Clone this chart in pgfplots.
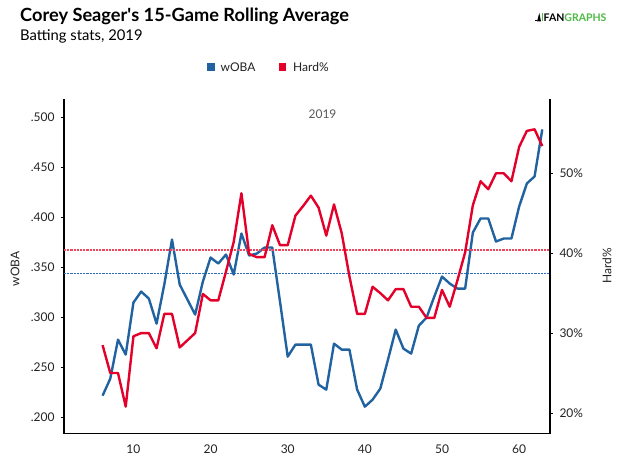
\documentclass[border=0pt]{standalone}
\usepackage{pgfplots}
\pgfplotsset{compat=1.18}
\usepackage{pgfplotstable}
\usepackage{fontspec}
\setmainfont{Lato}
\definecolor{fgblue}{RGB}{33,99,160}
\definecolor{fgred}{RGB}{227,0,43}
\definecolor{fgbluedot}{RGB}{45,110,190}
\definecolor{fgreddot}{RGB}{238,70,95}
\definecolor{fggreen}{RGB}{76,185,68}
\definecolor{txt}{RGB}{34,34,34}

\pgfplotstableread{
n woba
6 .222
7 .239
8 .278
9 .263
10 .315
11 .326
12 .319
13 .294
14 .333
15 .378
16 .333
17 .318
18 .303
19 .336
20 .360
21 .354
22 .363
23 .343
24 .384
25 .362
26 .364
27 .370
28 .370
29 .316
30 .261
31 .273
32 .273
33 .273
34 .233
35 .228
36 .274
37 .268
38 .268
39 .228
40 .211
41 .218
42 .229
43 .258
44 .288
45 .269
46 .264
47 .292
48 .300
49 .321
50 .341
51 .334
52 .329
53 .329
54 .385
55 .399
56 .399
57 .376
58 .379
59 .379
60 .411
61 .434
62 .441
63 .488
}\wobatable

\pgfplotstableread{
n hard
6 28.5
7 25.0
8 25.0
9 20.8
10 29.6
11 30.0
12 30.0
13 28.1
14 32.4
15 32.4
16 28.2
17 29.1
18 30.0
19 34.9
20 34.1
21 34.1
22 37.7
23 41.4
24 47.5
25 39.9
26 39.5
27 39.5
28 43.5
29 41.0
30 41.0
31 44.7
32 45.9
33 47.2
34 45.7
35 42.2
36 46.1
37 42.5
38 37.1
39 32.4
40 32.4
41 35.8
42 35.0
43 34.1
44 35.5
45 35.5
46 33.3
47 33.3
48 31.9
49 31.9
50 35.4
51 33.3
52 36.6
53 40.1
54 46.0
55 49.0
56 48.0
57 50.0
58 50.0
59 49.0
60 53.3
61 55.3
62 55.5
63 53.4
}\hardtable

\begin{document}
\begin{tikzpicture}[x=1pt,y=1pt]
\path[use as bounding box] (0,0) rectangle (623,466);

\pgfplotsset{
  common/.style={
    scale only axis, width=486pt, height=335pt,
    at={(64pt,32.3pt)}, anchor=south west,
    xmin=1, xmax=64,
    tick label style={font=\fontsize{12}{14}\selectfont, text=txt},
    /pgf/number format/assume math mode=true,
    axis line style={black, line width=1.3pt},
    every axis plot/.append style={line join=round},
  }
}

\begin{axis}[common,
  axis x line*=bottom, axis y line*=left,
  ymin=0.184, ymax=0.5187,
  ytick={0.2,0.25,0.3,0.35,0.4,0.45,0.5},
  yticklabels={.200,.250,.300,.350,.400,.450,.500},
  xtick={10,20,30,40,50,60},
  x tick style={draw=none},
  y tick style={black, line width=0.8pt},
  tick align=outside, major tick length=3pt,
  yticklabel style={xshift=-3pt},
  xticklabel style={yshift=-5pt},
]
\addplot[draw=fgbluedot, line width=1.5pt, line cap=butt, dash pattern=on 2.2pt off 1pt] coordinates {(1,0.3442) (64,0.3442)};
\addplot[draw=fgblue, line width=2.4pt] table[x=n,y=woba] {\wobatable};
\end{axis}

\begin{axis}[common,
  axis y line*=right, axis x line=none,
  ymin=17.41, ymax=59.33,
  ytick={20,30,40,50},
  yticklabels={20\%,30\%,40\%,50\%},
  y tick style={black, line width=0.8pt},
  tick align=outside, major tick length=3pt,
  yticklabel style={xshift=3pt},
]
\addplot[draw=fgreddot, line width=1.4pt, line cap=butt, dash pattern=on 2.2pt off 1pt] coordinates {(1,40.41) (64,40.41)};
\addplot[draw=fgred, line width=2.4pt] table[x=n,y=hard] {\hardtable};
\end{axis}

% in-plot year label
\node[text=black!65, font=\fontsize{12}{14}\selectfont] at (322.5,352) {2019};

% axis titles
\node[rotate=90, text=txt, font=\fontsize{12}{14}\selectfont] at (15,197) {wOBA};
\node[rotate=90, text=txt, font=\fontsize{12}{14}\selectfont] at (607,200) {Hard\%};

% titles
\node[anchor=base west, inner sep=0, text=black, font=\fontsize{18.2}{20}\selectfont\bfseries] at (20,444.3) {Corey Seager\textquotesingle s 15-Game Rolling Average};
\node[anchor=base west, inner sep=0, text=black, font=\fontsize{14.8}{16}\selectfont] at (20,425.3) {Batting stats, 2019};

% legend
\fill[fgblue] (207,395) rectangle (214.5,402.5);
\node[anchor=base west, inner sep=0, text=txt, font=\fontsize{12}{13}\selectfont] at (220.5,394.5) {wOBA};
\fill[fgred] (278.5,395) rectangle (286,402.5);
\node[anchor=base west, inner sep=0, text=txt, font=\fontsize{12}{13}\selectfont] at (293,394.5) {Hard\%};

% logo
\fill[black] (535,444.5) rectangle (536.5,446);
\fill[black] (537,444.5) -- (539.3,453) -- (541,444.5) -- cycle;
\fill[fggreen] (541.5,444.5) rectangle (543,453);
\node[anchor=base west, inner sep=0, font=\fontsize{10.5}{12}\selectfont\bfseries] at (543.5,444.5) {\textcolor{black}{FAN}\textcolor{fggreen}{GRAPHS}};
\end{tikzpicture}
\end{document}
